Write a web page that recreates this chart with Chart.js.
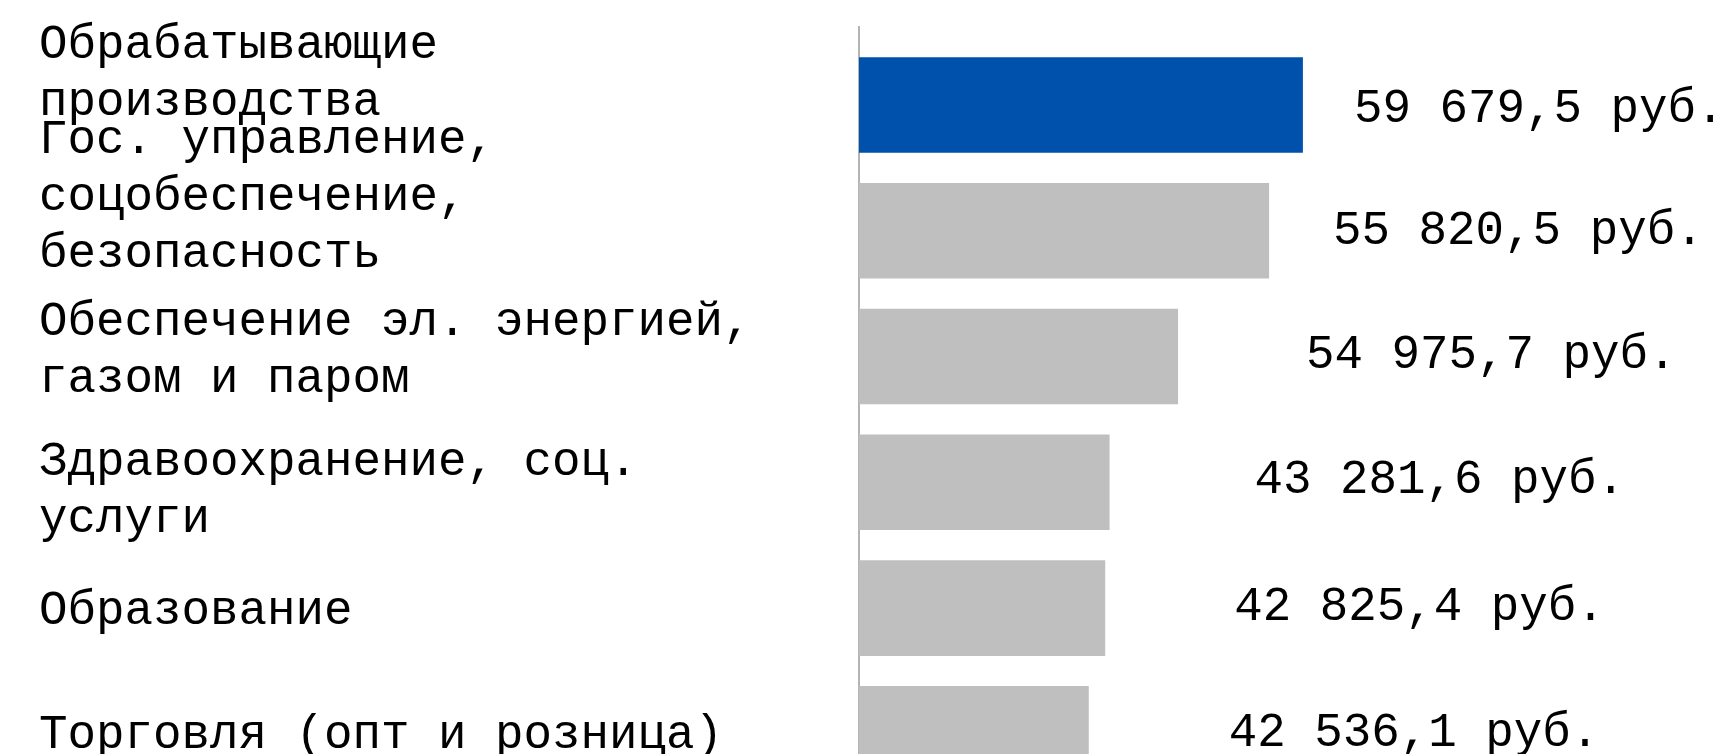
<!DOCTYPE html>
<html>
<head>
<meta charset="utf-8">
<script src="https://cdn.jsdelivr.net/npm/chart.js@4"></script>
<style>
  html, body { margin: 0; padding: 0; background: #fff; overflow: hidden; }
  #wrap { width: 1726px; height: 754px; position: relative; }
</style>
</head>
<body>
<div id="wrap"><canvas id="chart" width="1726" height="754"></canvas></div>
<script>
// отрасли (подписи слева, по строкам)
const categories = [
  ['Обрабатывающие', 'производства'],
  ['Гос. управление,', 'соцобеспечение,', 'безопасность'],
  ['Обеспечение эл. энергией,', 'газом и паром'],
  ['Здравоохранение, соц.', 'услуги'],
  ['Образование'],
  ['Торговля (опт и розница)']
];

// средняя зарплата, руб. (подписи справа от столбцов)
const salaries = [59679.5, 55820.5, 54975.7, 43281.6, 42825.4, 42536.1];

// длина столбцов как на исходной картинке, % ширины области (не пропорциональна суммам)
const barLengths = [51.2, 47.3, 36.8, 28.9, 28.4, 26.5];

// first bar is highlighted
const barColors = ['#0051AB', '#BFBFBF', '#BFBFBF', '#BFBFBF', '#BFBFBF', '#BFBFBF'];

const FONT = '47.5px "Liberation Mono", "Courier New", monospace';
const LINE_H = 57;
// сдвиги подписей (как в оригинале они стоят неровно)
const valueGap = [51, 64, 128, 145, 129, 140];
const valueDy = [4, 1, -1, -2, -1, 0];
const catNudge = [-31.5, -33, -5.5, 8.5, 3.5, 2];

function formatRub(v) {
  const parts = v.toFixed(1).split('.');
  const intPart = parts[0].replace(/\B(?=(\d{3})+(?!\d))/g, ' ');
  return intPart + ',' + parts[1] + ' руб.';
}

const labelsPlugin = {
  id: 'labelsPlugin',
  afterDatasetsDraw(chart) {
    const ctx = chart.ctx;
    const meta = chart.getDatasetMeta(0);
    const yScale = chart.scales.y;
    ctx.save();
    ctx.font = FONT;
    ctx.fillStyle = '#000';
    ctx.textBaseline = 'middle';
    ctx.textAlign = 'left';

    // суммы справа от столбцов
    meta.data.forEach((bar, i) => {
      ctx.fillText(formatRub(salaries[i]), bar.x + valueGap[i], bar.y + valueDy[i]);
    });

    // названия отраслей слева
    categories.forEach((lines, i) => {
      const cy = yScale.getPixelForValue(i) + catNudge[i];
      const top = cy - (lines.length - 1) * LINE_H / 2;
      lines.forEach((t, k) => {
        ctx.fillText(t, yScale.left, top + k * LINE_H);
      });
    });
    ctx.restore();
  }
};

const ctx = document.getElementById('chart').getContext('2d');

new Chart(ctx, {
  type: 'bar',
  data: {
    datasets: [{
      data: barLengths.map((v, i) => ({ x: v, y: i })),
      backgroundColor: barColors,
      borderWidth: 0,
      barPercentage: 0.76,
      categoryPercentage: 1
    }]
  },
  options: {
    indexAxis: 'y',
    responsive: false,
    animation: false,
    layout: { padding: { left: 39, right: 0, top: 27, bottom: 0 } },
    plugins: {
      legend: { display: false },
      tooltip: { enabled: false },
      title: { display: false }
    },
    scales: {
      x: {
        type: 'linear',
        display: false,
        min: 0,
        max: 100
      },
      y: {
        type: 'linear',
        reverse: true,
        offset: false,
        min: -0.62,
        max: 5.16,
        afterBuildTicks(scale) {
          scale.ticks = categories.map((c, i) => ({ value: i }));
        },
        afterFit(scale) {
          scale.width = 820;
        },
        grid: { display: false },
        ticks: { display: false },
        border: { display: true, color: '#b4b4b4', width: 2 }
      }
    }
  },
  plugins: [labelsPlugin]
});
</script>
</body>
</html>
